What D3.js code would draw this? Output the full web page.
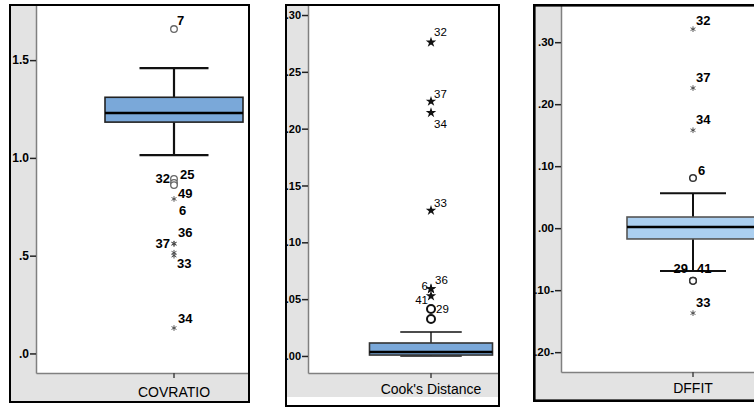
<!DOCTYPE html>
<html>
<head>
<meta charset="utf-8">
<script src="https://cdn.jsdelivr.net/npm/d3@7"></script>
<style>
  body { margin: 0; background: #fff; }
  svg { display: block; font-family: Arial, "Liberation Sans", sans-serif; }
</style>
</head>
<body>
<div class="chartBox"></div>
<script>
// box stats: lower whisker, Q1, median, Q3, upper whisker
var covBoxStats = [1.014, 1.183, 1.229, 1.31, 1.459];
var covTicks = [0, 0.5, 1.0, 1.5];
var covOutlierIds = ["7", "32", "25", "49", "6", "37", "36", "33", "", "34"];
var covOutlierValues = [1.659, 0.892, 0.872, 0.861, 0.79, 0.561, 0.561, 0.515, 0.5, 0.13];
var covOutlierKinds = ["o", "o", "o", "o", "*", "*", "*", "*", "*", "*"];

var cookBoxStats = [0.0, 0.0008, 0.0035, 0.0114, 0.0211];
var cookTicks = [0, 0.05, 0.10, 0.15, 0.20, 0.25, 0.30];
var cookOutlierIds = ["32", "37", "34", "33", "36", "6", "41", "29", ""];
var cookOutlierValues = [0.276, 0.224, 0.214, 0.128, 0.059, 0.059, 0.0527, 0.0413, 0.0325];
var cookOutlierKinds = ["*", "*", "*", "*", "*", "*", "*", "o", "o"];

var dffitBoxStats = [-0.069, -0.0174, 0.002, 0.018, 0.0565];
var dffitTicks = [-0.20, -0.10, 0, 0.10, 0.20, 0.30];
var dffitOutlierIds = ["32", "37", "34", "6", "29", "41", "33"];
var dffitOutlierValues = [0.321, 0.226, 0.158, 0.081, -0.085, -0.085, -0.137];
var dffitOutlierKinds = ["*", "*", "*", "o", "o", "o", "*"];

var W = 754, H = 409;

var svg = d3.select(".chartBox").append("svg")
  .attr("width", W)
  .attr("height", H);

// leading zero dropped the SPSS way, negatives shown with the sign on the right
var spssFormat = function(digits){
  return function(d){
    var s = d3.format("." + digits + "f")(Math.abs(d)).replace(/^0(?=\.)/, "");
    return d < 0 ? s + "-" : s;
  };
};

var drawPanel = function(cfg, idx){
  var g = svg.append("g");
  var clipId = "clip" + idx;
  svg.append("clipPath").attr("id", clipId)
    .append("rect")
    .attr("x", cfg.frame[0]).attr("y", cfg.frame[1])
    .attr("width", cfg.frame[2]).attr("height", cfg.frame[3]);
  g.attr("clip-path", "url(#" + clipId + ")");

  var fx = cfg.frame[0], fy = cfg.frame[1], fw = cfg.frame[2], fh = cfg.frame[3];

  // gray chart background + white data region
  g.append("rect").attr("x", fx).attr("y", fy).attr("width", fw).attr("height", cfg.grayBottom - fy)
    .attr("fill", "#e3e3e3");
  g.append("rect").attr("x", cfg.left).attr("y", fy).attr("width", fx + fw - cfg.left).attr("height", cfg.bottom - fy)
    .attr("fill", "#fff");

  var y = d3.scaleLinear().domain(cfg.domain).range([cfg.bottom, fy]);
  var x = d3.scaleBand().domain([cfg.title])
    .range([cfg.left, 2 * cfg.center - cfg.left])
    .paddingInner(0).paddingOuter(0.5);

  // y axis
  var yAxis = g.append("g")
    .attr("transform", "translate(" + cfg.left + ",0)")
    .call(d3.axisLeft(y).tickValues(cfg.ticks).tickFormat(spssFormat(cfg.digits))
      .tickSize(6).tickSizeOuter(0).tickPadding(1));
  yAxis.select(".domain").attr("stroke", "#808080").attr("stroke-width", 1.5);
  yAxis.selectAll(".tick line").attr("stroke", "#222").attr("stroke-width", 1.5);
  yAxis.selectAll(".tick text")
    .attr("fill", "#000")
    .style("font-size", cfg.tickSize)
    .style("font-weight", "bold");

  // x axis
  var xAxis = g.append("g")
    .attr("transform", "translate(0," + cfg.bottom + ")")
    .call(d3.axisBottom(x).tickSize(5).tickSizeOuter(0).tickFormat(""));
  xAxis.select(".domain").attr("stroke", "#808080").attr("stroke-width", 1.5);
  xAxis.selectAll(".tick line").attr("stroke", "#444").attr("stroke-width", 1.5);

  g.append("text")
    .attr("x", x(cfg.title) + x.bandwidth() / 2)
    .attr("y", cfg.titleY)
    .attr("text-anchor", "middle")
    .style("font-size", "14px")
    .attr("fill", "#000")
    .text(cfg.title);

  // box and whiskers
  var s = cfg.stats;
  var bx = x(cfg.title), bw = x.bandwidth(), cx = bx + bw / 2, capW = bw / 2;
  g.append("line").attr("x1", cx).attr("x2", cx).attr("y1", y(s[4])).attr("y2", y(s[3]))
    .attr("stroke", "#111").attr("stroke-width", cfg.whiskerW);
  g.append("line").attr("x1", cx).attr("x2", cx).attr("y1", y(s[1])).attr("y2", y(s[0]))
    .attr("stroke", "#111").attr("stroke-width", cfg.whiskerW);
  [s[0], s[4]].forEach(function(v){
    g.append("line").attr("x1", cx - capW / 2).attr("x2", cx + capW / 2)
      .attr("y1", y(v)).attr("y2", y(v))
      .attr("stroke", "#111").attr("stroke-width", cfg.whiskerW);
  });
  g.append("rect")
    .attr("x", bx).attr("y", y(s[3]))
    .attr("width", bw).attr("height", y(s[1]) - y(s[3]))
    .attr("fill", cfg.boxFill)
    .attr("stroke", cfg.boxStroke).attr("stroke-width", 1.6);
  g.append("line").attr("x1", bx).attr("x2", bx + bw).attr("y1", y(s[2])).attr("y2", y(s[2]))
    .attr("stroke", "#000").attr("stroke-width", 2.5);

  // outliers
  var pts = cfg.ids.map(function(id, i){
    return {id: id, v: cfg.values[i], kind: cfg.kinds[i]};
  });
  var star = d3.symbol().type(cfg.starType).size(cfg.starSize);
  pts.forEach(function(p){
    var py = y(p.v);
    if(p.kind === "o"){
      g.append("circle").attr("cx", cx).attr("cy", py).attr("r", cfg.circleR)
        .attr("fill", "#fff").attr("stroke", cfg.circleStroke).attr("stroke-width", cfg.circleW);
    }else{
      var m = g.append("path").attr("d", star).attr("transform", "translate(" + cx + "," + py + ")");
      if(cfg.starType === d3.symbolStar){
        m.attr("fill", "#111");
      }else{
        m.attr("fill", "none").attr("stroke", "#444").attr("stroke-width", 0.9);
      }
    }
  });
  pts.forEach(function(p){
    if(!p.id) return;
    var pl = cfg.place[p.id];
    g.append("text")
      .attr("x", cx + pl[0])
      .attr("y", y(p.v) + pl[1])
      .attr("dy", "0.36em")
      .attr("text-anchor", pl[2] || "start")
      .attr("fill", "#000")
      .style("font-size", cfg.labelSize)
      .style("font-weight", cfg.labelWeight)
      .style("font-family", cfg.labelFont)
      .text(p.id);
  });

  // outer frame
  g.append("rect").attr("x", fx).attr("y", fy).attr("width", fw).attr("height", fh)
    .attr("fill", "none").attr("stroke", "#000").attr("stroke-width", cfg.frameW * 2);
};

var panels = [
  {
    title: "COVRATIO", stats: covBoxStats, ticks: covTicks, digits: 1,
    ids: covOutlierIds, values: covOutlierValues, kinds: covOutlierKinds,
    frame: [9, 4, 241, 399], left: 36, bottom: 373, grayBottom: 403, center: 174,
    domain: [-0.10, 1.787], titleY: 397, frameW: 2, tickSize: "12px",
    boxFill: "#7aa8d9", boxStroke: "#222", whiskerW: 2.2,
    starType: d3.symbolAsterisk, starSize: 22,
    circleR: 3.3, circleStroke: "#666", circleW: 1.3,
    labelSize: "13px", labelWeight: "bold", labelFont: "Arial, 'Liberation Sans', sans-serif",
    place: {
      "7": [3, -9], "32": [-4, -1, "end"], "25": [6, -9], "49": [4, 8], "6": [5, 11],
      "37": [-4, 0, "end"], "36": [4, -11], "33": [3, 11], "34": [4, -10]
    }
  },
  {
    title: "Cook's Distance", stats: cookBoxStats, ticks: cookTicks, digits: 2,
    ids: cookOutlierIds, values: cookOutlierValues, kinds: cookOutlierKinds,
    frame: [285, 4, 215, 403], left: 308, bottom: 373, grayBottom: 397, center: 431,
    domain: [-0.015, 0.3097], titleY: 394, frameW: 2, tickSize: "11px",
    boxFill: "#7aa8d9", boxStroke: "#333", whiskerW: 1.4,
    starType: d3.symbolStar, starSize: 34,
    circleR: 4, circleStroke: "#111", circleW: 2,
    labelSize: "11.5px", labelWeight: "normal", labelFont: "'Liberation Sans Narrow', 'Arial Narrow', sans-serif",
    place: {
      "32": [3, -10], "37": [3, -8], "34": [3, 11], "33": [3, -8], "36": [4, -9],
      "6": [-3, -3, "end"], "41": [-3, 4, "end"], "29": [5, 0]
    }
  },
  {
    title: "DFFIT", stats: dffitBoxStats, ticks: dffitTicks, digits: 2,
    ids: dffitOutlierIds, values: dffitOutlierValues, kinds: dffitOutlierKinds,
    frame: [533, 4, 240, 398], left: 561, bottom: 372, grayBottom: 402, center: 693,
    domain: [-0.232, 0.3616], titleY: 393, frameW: 2.6, tickSize: "11.5px",
    boxFill: "#abcff0", boxStroke: "#555", whiskerW: 2,
    starType: d3.symbolAsterisk, starSize: 22,
    circleR: 3.3, circleStroke: "#333", circleW: 1.5,
    labelSize: "13px", labelWeight: "bold", labelFont: "Arial, 'Liberation Sans', sans-serif",
    place: {
      "32": [3, -9], "37": [3, -11], "34": [3, -11], "6": [5, -8],
      "29": [-5, -13, "end"], "41": [4, -13], "33": [3, -11]
    }
  }
];

panels.forEach(drawPanel);
</script>
</body>
</html>
